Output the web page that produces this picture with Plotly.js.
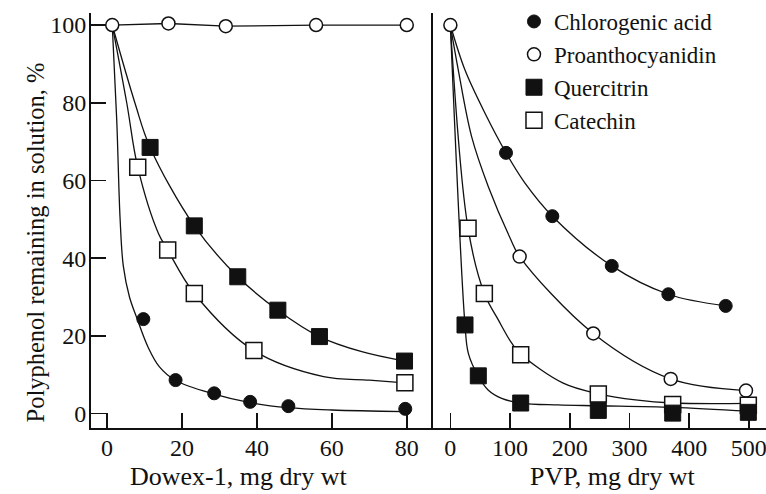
<!DOCTYPE html>
<html>
<head>
<meta charset="utf-8">
<script src="https://cdn.plot.ly/plotly-3.0.1.min.js"></script>
<style>
  html, body { margin: 0; padding: 0; background: #ffffff; }
  #chart { width: 766px; height: 494px; }
  #chart svg text { font-family: "Liberation Serif", "Times New Roman", Times, serif !important; }
</style>
</head>
<body>
<div id="chart"></div>
<script>
// ---------- Dowex-1 panel: measured points ----------
const dowexChloroX   = [9.7, 18.3, 28.6, 38.2, 48.4, 79.6];
const dowexChloroY   = [24.3, 8.6, 5.2, 3.0, 1.9, 1.2];
const dowexProanthoX = [1.4, 16.4, 31.7, 55.8, 80.0];
const dowexProanthoY = [100, 100.4, 99.7, 100, 100];
const dowexQuercX    = [11.5, 23.3, 34.9, 45.6, 56.7, 79.4];
const dowexQuercY    = [68.5, 48.3, 35.2, 26.6, 19.8, 13.5];
const dowexCatX      = [8.2, 16.2, 23.3, 39.2, 79.5];
const dowexCatY      = [63.4, 42.1, 30.9, 16.2, 7.9];

// ---------- Dowex-1 panel: fitted curves ----------
const dowexChloroFitX = [1.4, 2.6, 3.5, 4.35, 6.0, 8.0, 11.0, 14.0, 18.3, 28.6, 38.2, 48.4, 60.0, 79.6];
const dowexChloroFitY = [100, 75.5, 50.0, 38.0, 30.0, 24.5, 17.0, 12.0, 8.5, 5.0, 2.8, 1.5, 0.9, 0.5];
const dowexQuercFitX  = [1.4, 7.5, 11.5, 23.3, 34.9, 45.6, 56.7, 68.0, 79.4];
const dowexQuercFitY  = [100, 79.8, 68.5, 48.3, 35.2, 26.6, 19.8, 15.9, 13.5];
const dowexCatFitX    = [1.4, 5.3, 8.2, 13.7, 16.2, 23.3, 39.2, 57.8, 70.0, 79.5];
const dowexCatFitY    = [100, 79.8, 63.4, 46.4, 42.1, 30.9, 16.2, 9.5, 8.6, 7.9];

// ---------- PVP panel: measured points ----------
const pvpChloroX   = [93.2, 170.8, 270.3, 365.1, 461.2];
const pvpChloroY   = [67.1, 50.8, 38.0, 30.7, 27.7];
const pvpProanthoX = [0, 116, 239.4, 369.1, 495.2];
const pvpProanthoY = [100, 40.4, 20.6, 8.9, 5.9];
const pvpQuercX    = [24.5, 46.8, 117.8, 247.8, 372.4, 499.1];
const pvpQuercY    = [22.8, 9.7, 2.7, 0.8, 0.1, 0.3];
const pvpCatX      = [29.6, 56.9, 117.8, 247.8, 372.4, 499.1];
const pvpCatY      = [47.7, 30.9, 15.1, 5.0, 2.3, 2.1];

// ---------- PVP panel: fitted curves ----------
const pvpChloroFitX   = [0, 24.5, 58, 93.2, 125, 170.8, 270.3, 365.1, 461.2];
const pvpChloroFitY   = [100, 88.4, 77.3, 67.1, 59.3, 50.8, 38.0, 30.7, 27.7];
const pvpProanthoFitX = [0, 13.3, 35.7, 63.6, 100, 116, 239.4, 369.1, 495.2];
const pvpProanthoFitY = [100, 88.4, 71.2, 58.4, 45.2, 40.4, 20.6, 8.9, 5.9];
const pvpQuercFitX    = [0, 24.5, 30.1, 46.8, 63.6, 86, 117.8, 180, 250, 372, 499];
const pvpQuercFitY    = [100, 22.8, 15.5, 9.6, 6.0, 3.9, 2.7, 2.2, 2.0, 1.6, 0.6];
const pvpCatFitX      = [0, 29.6, 56.9, 80.3, 102.8, 117.8, 189, 250, 310, 372, 499];
const pvpCatFitY      = [100, 47.7, 30.9, 24.1, 18.1, 15.3, 7.8, 5.0, 3.5, 2.7, 2.6];

// ---------- labels ----------
const seriesNames = ["Chlorogenic acid", "Proanthocyanidin", "Quercitrin", "Catechin"];
const dowexTicks = [0, 20, 40, 60, 80];
const pvpTicks   = [0, 100, 200, 300, 400, 500];
const yTicks     = [0, 20, 40, 60, 80, 100];
const xTitleLeft  = "Dowex-1, mg dry wt";
const xTitleRight = "PVP, mg dry wt";
const yTitle      = "Polyphenol remaining in solution, %";

const INK = "#111111";
const FONT = "Liberation Serif";

function curve(x, y, xa, ya) {
  return { x: x, y: y, xaxis: xa, yaxis: ya, mode: "lines", type: "scatter",
           line: { color: INK, width: 1.3, shape: "spline", smoothing: 1 },
           hoverinfo: "skip", showlegend: false };
}
const markerStyles = {
  chloro:   { symbol: "circle", size: 13, color: INK, line: { color: INK, width: 1 } },
  proantho: { symbol: "circle", size: 13, color: "#ffffff", line: { color: INK, width: 1.5 } },
  querc:    { symbol: "square", size: 16, color: INK, line: { color: INK, width: 1 } },
  cat:      { symbol: "square", size: 16, color: "#ffffff", line: { color: INK, width: 1.5 } }
};
function pts(x, y, xa, ya, style, name, legend) {
  return { x: x, y: y, xaxis: xa, yaxis: ya, mode: "markers", type: "scatter",
           marker: style, name: name, legendgroup: name, showlegend: legend };
}

const data = [
  curve(dowexChloroFitX, dowexChloroFitY, "x", "y"),
  curve(dowexQuercFitX, dowexQuercFitY, "x", "y"),
  curve(dowexCatFitX, dowexCatFitY, "x", "y"),
  { x: dowexProanthoX, y: dowexProanthoY, xaxis: "x", yaxis: "y", mode: "lines", type: "scatter",
    line: { color: INK, width: 1.3 }, hoverinfo: "skip", showlegend: false },
  curve(pvpChloroFitX, pvpChloroFitY, "x2", "y2"),
  curve(pvpProanthoFitX, pvpProanthoFitY, "x2", "y2"),
  curve(pvpQuercFitX, pvpQuercFitY, "x2", "y2"),
  curve(pvpCatFitX, pvpCatFitY, "x2", "y2"),
  pts(dowexChloroX, dowexChloroY, "x", "y", markerStyles.chloro, seriesNames[0], true),
  pts(dowexProanthoX, dowexProanthoY, "x", "y", markerStyles.proantho, seriesNames[1], true),
  pts(dowexCatX, dowexCatY, "x", "y", markerStyles.cat, seriesNames[3], true),
  pts(dowexQuercX, dowexQuercY, "x", "y", markerStyles.querc, seriesNames[2], true),
  pts(pvpChloroX, pvpChloroY, "x2", "y2", markerStyles.chloro, seriesNames[0], false),
  pts(pvpProanthoX, pvpProanthoY, "x2", "y2", markerStyles.proantho, seriesNames[1], false),
  pts(pvpCatX, pvpCatY, "x2", "y2", markerStyles.cat, seriesNames[3], false),
  pts(pvpQuercX, pvpQuercY, "x2", "y2", markerStyles.querc, seriesNames[2], false)
];
data[8].legendrank = 1; data[9].legendrank = 2; data[11].legendrank = 3; data[10].legendrank = 4;

const axisCommon = {
  showgrid: false, zeroline: false, showline: true, linecolor: INK, linewidth: 2,
  ticks: "inside", ticklen: 15, tickwidth: 1.6, tickcolor: INK,
  tickfont: { family: FONT, size: 24, color: INK }, ticklabeloverflow: "allow"
};
const split = (433 - 91) / 675;

const layout = {
  width: 766, height: 494,
  margin: { l: 91, r: 0, t: 13, b: 66, pad: 0, autoexpand: false },
  paper_bgcolor: "#ffffff", plot_bgcolor: "#ffffff",
  font: { family: FONT, color: INK },
  showlegend: true,
  legend: {
    xref: "container", yref: "container",
    x: 0.671, xanchor: "left", y: 1.0, yanchor: "top",
    bgcolor: "rgba(0,0,0,0)", borderwidth: 0,
    font: { family: FONT, size: 23, color: INK },
    traceorder: "normal"
  },
  xaxis: Object.assign({}, axisCommon, {
    domain: [0, split], anchor: "y", range: [-4.27, 87.0], ticklabelstandoff: -3,
    tickmode: "array", tickvals: dowexTicks, ticktext: dowexTicks.map(String)
  }),
  xaxis2: Object.assign({}, axisCommon, {
    domain: [split, 1], anchor: "y2", range: [-29.1, 528.7], ticklabelstandoff: -3,
    tickmode: "array", tickvals: pvpTicks, ticktext: pvpTicks.map(String)
  }),
  yaxis: Object.assign({}, axisCommon, {
    domain: [0, 1], anchor: "x", range: [-3.73, 103.1], ticklabelstandoff: -2,
    tickmode: "array", tickvals: yTicks, ticktext: yTicks.map(String)
  }),
  yaxis2: {
    domain: [0, 1], anchor: "x2", range: [-3.73, 103.1], matches: "y",
    showgrid: false, zeroline: false, showline: true, linecolor: INK, linewidth: 2,
    ticks: "", showticklabels: false
  },
  annotations: [
    { text: xTitleLeft, xref: "x", yref: "paper", x: 35.2, y: -0.157,
      xanchor: "center", yanchor: "bottom", showarrow: false,
      font: { family: FONT, size: 26, color: INK } },
    { text: xTitleRight, xref: "x2", yref: "paper", x: 271.6, y: -0.157,
      xanchor: "center", yanchor: "bottom", showarrow: false,
      font: { family: FONT, size: 26, color: INK } },
    { text: yTitle, xref: "paper", yref: "paper", x: -0.0815, y: 0.447,
      xanchor: "center", yanchor: "middle", textangle: -90, showarrow: false,
      font: { family: FONT, size: 24.5, color: INK } }
  ]
};

Plotly.newPlot("chart", data, layout, { staticPlot: true, displayModeBar: false });
</script>
</body>
</html>
